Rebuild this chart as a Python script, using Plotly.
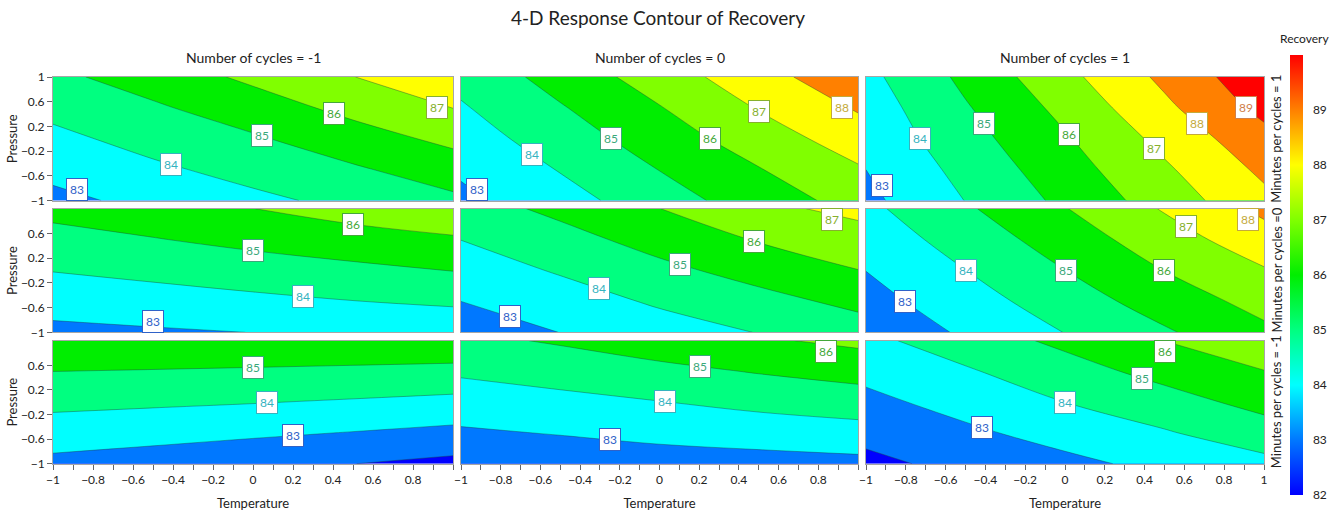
import plotly.graph_objects as go

# ---------------- data ----------------
temperature = [-1, -0.5, 0, 0.5, 1]
pressure = [-1, -0.5, 0, 0.5, 1]

cycle_titles = ["Number of cycles = -1", "Number of cycles = 0", "Number of cycles = 1"]
minute_titles = ["Minutes per cycles = 1", "Minutes per cycles =0", "Minutes per cycles = -1"]

# Recovery grids: rows = pressure (-1 .. 1), columns = temperature (-1 .. 1)
# Minutes per cycles = 1
rec_min_p1_cyc_m1 = [
    [82.75, 83.27, 83.78, 84.26, 84.80],
    [83.26, 83.82, 84.33, 84.87, 85.50],
    [83.76, 84.34, 84.88, 85.57, 86.24],
    [84.27, 84.86, 85.53, 86.28, 87.01],
    [84.78, 85.45, 86.20, 86.98, 87.78],
]
rec_min_p1_cyc_0 = [
    [82.77, 83.62, 84.55, 85.50, 86.35],
    [83.14, 84.05, 85.02, 85.95, 86.89],
    [83.52, 84.49, 85.49, 86.50, 87.49],
    [83.90, 84.92, 85.95, 87.06, 88.10],
    [84.30, 85.38, 86.47, 87.62, 88.70],
]
rec_min_p1_cyc_p1 = [
    [82.75, 84.02, 85.24, 86.48, 87.75],
    [83.00, 84.31, 85.57, 86.85, 88.20],
    [83.27, 84.62, 85.90, 87.28, 88.69],
    [83.48, 84.91, 86.28, 87.79, 89.27],
    [83.73, 85.23, 86.72, 88.22, 89.71],
]
# Minutes per cycles = 0
rec_min_0_cyc_m1 = [
    [82.76, 82.88, 83.01, 83.15, 83.29],
    [83.39, 83.57, 83.77, 83.98, 84.15],
    [84.03, 84.26, 84.52, 84.76, 85.02],
    [84.66, 84.95, 85.27, 85.58, 85.88],
    [85.29, 85.62, 85.99, 86.42, 86.72],
]
rec_min_0_cyc_0 = [
    [82.50, 83.01, 83.56, 84.03, 84.55],
    [83.00, 83.55, 84.13, 84.68, 85.24],
    [83.51, 84.09, 84.75, 85.36, 85.98],
    [84.01, 84.65, 85.37, 86.07, 86.61],
    [84.54, 85.24, 85.99, 86.78, 87.24],
]
rec_min_0_cyc_p1 = [
    [82.24, 83.14, 84.02, 84.88, 85.79],
    [82.63, 83.57, 84.50, 85.45, 86.34],
    [83.01, 83.99, 84.99, 86.01, 86.92],
    [83.39, 84.43, 85.47, 86.55, 87.57],
    [83.77, 84.87, 85.96, 87.08, 88.23],
]
# Minutes per cycles = -1
rec_min_m1_cyc_m1 = [
    [82.74, 82.53, 82.26, 82.01, 81.74],
    [83.50, 83.34, 83.16, 82.96, 82.74],
    [84.25, 84.15, 84.04, 83.90, 83.74],
    [85.00, 84.95, 84.89, 84.82, 84.74],
    [85.75, 85.73, 85.73, 85.72, 85.71],
]
rec_min_m1_cyc_0 = [
    [82.25, 82.39, 82.55, 82.62, 82.73],
    [82.87, 83.05, 83.26, 83.45, 83.62],
    [83.50, 83.72, 83.97, 84.26, 84.50],
    [84.13, 84.41, 84.73, 85.06, 85.36],
    [84.76, 85.11, 85.54, 85.88, 86.21],
]
rec_min_m1_cyc_p1 = [
    [81.76, 82.28, 82.75, 83.27, 83.72],
    [82.26, 82.81, 83.37, 83.91, 84.56],
    [82.75, 83.35, 84.00, 84.61, 85.31],
    [83.26, 83.89, 84.60, 85.32, 85.97],
    [83.77, 84.49, 85.22, 86.01, 86.68],
]

contour_start, contour_end, contour_step = 82, 89, 1
label_levels = [83, 84, 85, 86, 87, 88, 89]
colorbar_min, colorbar_max = 82, 90
colorbar_ticks = [82, 83, 84, 85, 86, 87, 88, 89]

x_ticks_inner = [-1, -0.8, -0.6, -0.4, -0.2, 0, 0.2, 0.4, 0.6, 0.8]
x_ticks_last = [-1, -0.8, -0.6, -0.4, -0.2, 0, 0.2, 0.4, 0.6, 0.8, 1]
x_minor_ticks = [-0.9, -0.7, -0.5, -0.3, -0.1, 0.1, 0.3, 0.5, 0.7, 0.9, 1]
y_ticks_top = [1, 0.6, 0.2, -0.2, -0.6, -1]
y_ticks_other = [0.6, 0.2, -0.2, -0.6, -1]

# ---------------- styling ----------------
W, H = 1341, 513
FONT = "Lato"
scale_colors = ["#0000FF", "#0078FF", "#00FFFF", "#00FF80", "#00EE00",
                "#80FF00", "#FFFF00", "#FF8000", "#FF0000"]
colorscale = [[i / (len(scale_colors) - 1), c] for i, c in enumerate(scale_colors)]
label_colors = {83: "#2f62c8", 84: "#35b3bf", 85: "#3aa87a", 86: "#44a83a",
                87: "#86b02e", 88: "#c4aa3a", 89: "#d0804a"}

grids = [
    [rec_min_p1_cyc_m1, rec_min_p1_cyc_0, rec_min_p1_cyc_p1],
    [rec_min_0_cyc_m1, rec_min_0_cyc_0, rec_min_0_cyc_p1],
    [rec_min_m1_cyc_m1, rec_min_m1_cyc_0, rec_min_m1_cyc_p1],
]

col_px = [(53, 453), (461, 858), (866, 1264)]
row_px = [(77, 200.5), (208.7, 332.3), (340.7, 463.7)]


def level_crossings(z, level):
    """Points where the level crosses the grid lines (linear interpolation of the data)."""
    pts = set()
    for i, p in enumerate(pressure):
        for j in range(len(temperature) - 1):
            a, b = z[i][j], z[i][j + 1]
            if a != b and (a - level) * (b - level) <= 0:
                t = temperature[j] + (level - a) / (b - a) * (temperature[j + 1] - temperature[j])
                pts.add((round(t, 6), round(p, 6)))
    for j, t in enumerate(temperature):
        for i in range(len(pressure) - 1):
            a, b = z[i][j], z[i + 1][j]
            if a != b and (a - level) * (b - level) <= 0:
                p = pressure[i] + (level - a) / (b - a) * (pressure[i + 1] - pressure[i])
                pts.add((round(t, 6), round(p, 6)))
    return sorted(pts)


fig = go.Figure()
layout_axes = {}
annotations = []

for r in range(3):
    for c in range(3):
        k = r * 3 + c + 1
        xa = "x" if k == 1 else f"x{k}"
        ya = "y" if k == 1 else f"y{k}"
        z = grids[r][c]
        fig.add_trace(go.Contour(
            x=temperature, y=pressure, z=z,
            xaxis=xa, yaxis=ya,
            colorscale=colorscale, showscale=False,
            contours=dict(start=contour_start, end=contour_end, size=contour_step,
                          coloring="fill", showlabels=False),
            line=dict(color="rgba(30,60,60,0.5)", width=0.8, smoothing=1),
            hoverinfo="skip",
        ))
        # contour value labels in white boxes, placed mid-way along each contour
        for lev in label_levels:
            pts = level_crossings(z, lev)
            if not pts:
                continue
            n = len(pts)
            if n % 2 == 1:
                lt, lp = pts[n // 2]
            else:
                a, b = pts[n // 2 - 1], pts[n // 2]
                lt, lp = (a[0] + b[0]) / 2, (a[1] + b[1]) / 2
            lt = min(max(lt, -0.92), 0.92)
            lp = min(max(lp, -0.82), 0.82)
            annotations.append(dict(
                text=str(lev), x=lt, y=lp, xref=xa, yref=ya, showarrow=False,
                xanchor="center", yanchor="middle",
                font=dict(family=FONT, size=12, color=label_colors[lev]),
                bgcolor="white", bordercolor=label_colors[lev], borderwidth=1, borderpad=3))

        bottom = (r == 2)
        left = (c == 0)
        xdom = [col_px[c][0] / W, col_px[c][1] / W]
        ydom = [1 - row_px[r][1] / H, 1 - row_px[r][0] / H]
        xaxis = dict(domain=xdom, anchor=ya, range=[-1, 1], showgrid=False, zeroline=False,
                     showline=True, mirror=True, linecolor="#a6a6a6", linewidth=1,
                     fixedrange=True)
        if bottom:
            xaxis.update(tickmode="array", tickvals=(x_ticks_last if c == 2 else x_ticks_inner),
                         ticks="outside", ticklen=5, tickcolor="#666", tickwidth=1,
                         tickfont=dict(family=FONT, size=12, color="#222"),
                         minor=dict(tickmode="array", tickvals=x_minor_ticks, ticks="outside",
                                    ticklen=5, tickcolor="#666", tickwidth=1),
                         title=dict(text="Temperature", standoff=12,
                                    font=dict(family=FONT, size=13, color="#222")))
        else:
            xaxis.update(showticklabels=False, ticks="")
        yaxis = dict(domain=ydom, anchor=xa, range=[-1, 1], showgrid=False, zeroline=False,
                     showline=True, mirror=True, linecolor="#a6a6a6", linewidth=1,
                     fixedrange=True)
        if left:
            yaxis.update(tickmode="array", tickvals=(y_ticks_top if r == 0 else y_ticks_other),
                         ticks="outside", ticklen=5, tickcolor="#666", tickwidth=1,
                         tickfont=dict(family=FONT, size=12, color="#222"),
                         title=dict(text="Pressure", standoff=0,
                                    font=dict(family=FONT, size=13, color="#222")))
        else:
            yaxis.update(showticklabels=False, ticks="")
        layout_axes["xaxis" if k == 1 else f"xaxis{k}"] = xaxis
        layout_axes["yaxis" if k == 1 else f"yaxis{k}"] = yaxis

# colour bar (continuous) for the Recovery scale
fig.add_trace(go.Scatter(
    x=[None], y=[None], mode="markers", xaxis="x", yaxis="y",
    showlegend=False, hoverinfo="skip",
    marker=dict(color=[colorbar_min], cmin=colorbar_min, cmax=colorbar_max,
                colorscale=colorscale, showscale=True,
                colorbar=dict(x=1290 / W, xanchor="left", xpad=0,
                              y=1 - 275 / H, yanchor="middle", ypad=0,
                              len=440, lenmode="pixels", thickness=13, thicknessmode="pixels",
                              tickmode="array", tickvals=colorbar_ticks,
                              ticks="outside", ticklen=8, tickcolor="rgba(0,0,0,0)",
                              tickfont=dict(family=FONT, size=12, color="#222"),
                              outlinewidth=0)),
))

annotations.append(dict(text="Recovery", x=1304 / W, y=1 - 39 / H, xref="paper", yref="paper",
                        showarrow=False, xanchor="center", yanchor="middle",
                        font=dict(family=FONT, size=12, color="#222")))
for c in range(3):
    annotations.append(dict(text=cycle_titles[c], x=(col_px[c][0] + col_px[c][1]) / 2 / W,
                            y=1 - 57 / H, xref="paper", yref="paper", showarrow=False,
                            xanchor="center", yanchor="middle",
                            font=dict(family=FONT, size=14, color="#222")))
for r in range(3):
    annotations.append(dict(text=minute_titles[r], x=1276 / W,
                            y=1 - (row_px[r][0] + row_px[r][1]) / 2 / H,
                            xref="paper", yref="paper", showarrow=False, textangle=-90,
                            xanchor="center", yanchor="middle",
                            font=dict(family=FONT, size=13, color="#222")))

fig.update_layout(
    width=W, height=H,
    margin=dict(l=0, r=0, t=0, b=0, autoexpand=False),
    paper_bgcolor="white", plot_bgcolor="white",
    title=dict(text="4-D Response Contour of Recovery", x=658 / W, y=1 - 18 / H,
               xanchor="center", yanchor="middle",
               font=dict(family=FONT, size=19, color="#222")),
    annotations=annotations,
    showlegend=False,
    **layout_axes,
)

fig.write_html("out.html")
